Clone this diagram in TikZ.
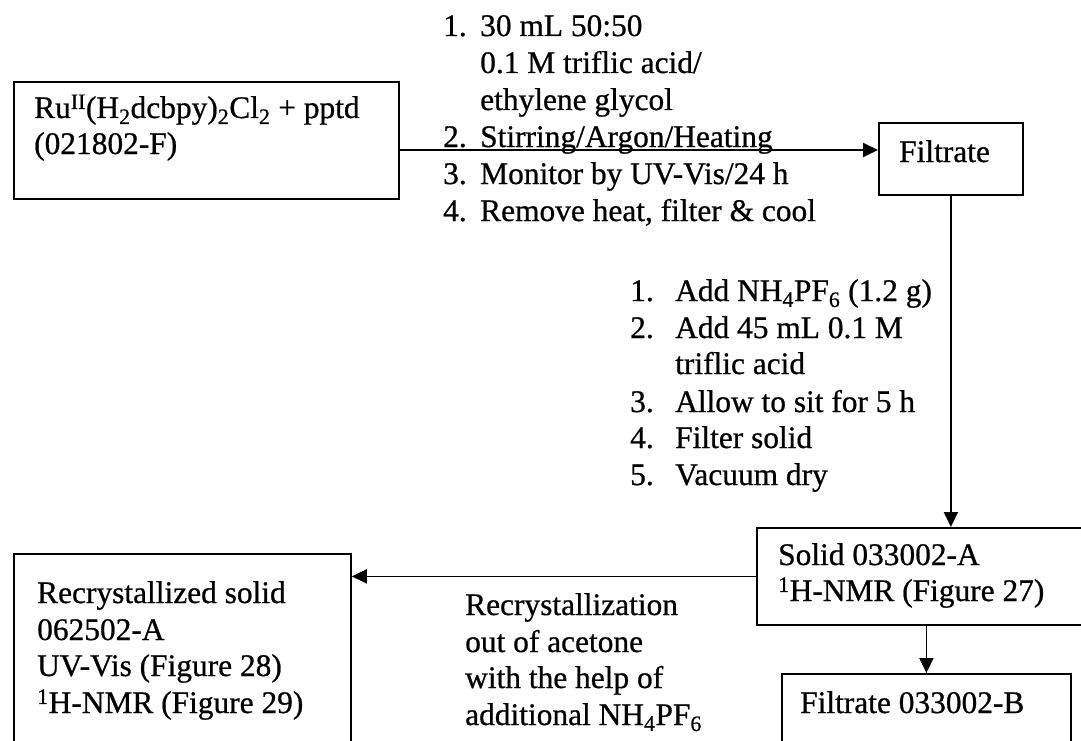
\documentclass[tikz,border=0pt]{standalone}
\usepackage{fontspec}
\setmainfont{Liberation Serif}[RawFeature={embolden=0.7}]
\usetikzlibrary{arrows.meta}
\newcommand{\fsz}{\fontsize{31.4}{37}\selectfont}
\begin{document}
\begin{tikzpicture}[x=1pt,y=-1pt,
  box/.style={draw, line width=1.8pt, rectangle, inner sep=0pt, anchor=north west},
  lbl/.style={anchor=base west, inner sep=0pt, font=\fsz},
  arr/.style={line width=1.8pt, -{Triangle[length=15pt,width=14pt]}}]
\useasboundingbox (0,0) rectangle (1081,741);
\clip (0,0) rectangle (1081,741);
% boxes
\node[box, minimum width=385pt, minimum height=117pt] (b1) at (13,81) {};
\node[box, minimum width=144pt, minimum height=72pt] (filt) at (878,122) {};
\node[box, minimum width=327pt, minimum height=97pt] (solid) at (756,527) {};
\node[box, minimum width=337pt, minimum height=200pt] (recr) at (13,553) {};
\node[box, minimum width=289pt, minimum height=90pt] (f2) at (781,673) {};
% connectors
\coordinate (a1) at (0,150);
\draw[arr] (b1.east |- a1) -- (filt.west |- a1);
\draw[arr] (filt.south) -- (filt.south |- solid.north);
\draw[arr] (solid.west) -- (solid.west -| recr.east);
\draw[arr] (f2.north |- solid.south) -- (f2.north);
% box texts
\node[lbl] (t1a) at (34,118) {Ru\textsuperscript{II}(H\textsubscript{2}dcbpy)\textsubscript{2}Cl\textsubscript{2} + pptd};
\node[lbl] (t1b) at (34,154) {(021802-F)};
\node[lbl] (tf) at (899,162) {Filtrate};
\node[lbl] (ts1) at (778,565) {Solid 033002-A};
\node[lbl] (ts2) at (778,601) {\textsuperscript{1}H-NMR (Figure 27)};
\node[lbl] (tf2) at (800,713) {Filtrate 033002-B};
\node[lbl] (tr1) at (37,603) {Recrystallized solid};
\node[lbl] (tr2) at (37,640) {062502-A};
\node[lbl] (tr3) at (37,676) {UV-Vis (Figure 28)};
\node[lbl] (tr4) at (37,713) {\textsuperscript{1}H-NMR (Figure 29)};
% top list
\node[lbl] (n11) at (443,36) {1.};
\node[lbl] (l11) at (480,36) {30 mL 50:50};
\node[lbl] (l12) at (480,73) {0.1 M triflic acid/};
\node[lbl] (l13) at (480,110) {ethylene glycol};
\node[lbl] (n12) at (443,147) {2.};
\node[lbl] (l14) at (480,147) {Stirring/Argon/Heating};
\node[lbl] (n13) at (443,184) {3.};
\node[lbl] (l15) at (480,184) {Monitor by UV-Vis/24 h};
\node[lbl] (n14) at (443,221) {4.};
\node[lbl] (l16) at (480,221) {Remove heat, filter \& cool};
% middle list
\node[lbl] (n21) at (630,301) {1.};
\node[lbl] (l21) at (675,301) {Add NH\textsubscript{4}PF\textsubscript{6} (1.2 g)};
\node[lbl] (n22) at (630,338) {2.};
\node[lbl] (l22) at (675,338) {Add 45 mL 0.1 M};
\node[lbl] (l23) at (675,374) {triflic acid};
\node[lbl] (n23) at (630,412) {3.};
\node[lbl] (l24) at (675,412) {Allow to sit for 5 h};
\node[lbl] (n24) at (630,448) {4.};
\node[lbl] (l25) at (675,448) {Filter solid};
\node[lbl] (n25) at (630,485) {5.};
\node[lbl] (l26) at (675,485) {Vacuum dry};
% recrystallization label
\node[lbl] (r1) at (465,615) {Recrystallization};
\node[lbl] (r2) at (465,652) {out of acetone};
\node[lbl] (r3) at (465,688) {with the help of};
\node[lbl] (r4) at (465,725) {additional NH\textsubscript{4}PF\textsubscript{6}};
\end{tikzpicture}
\end{document}
